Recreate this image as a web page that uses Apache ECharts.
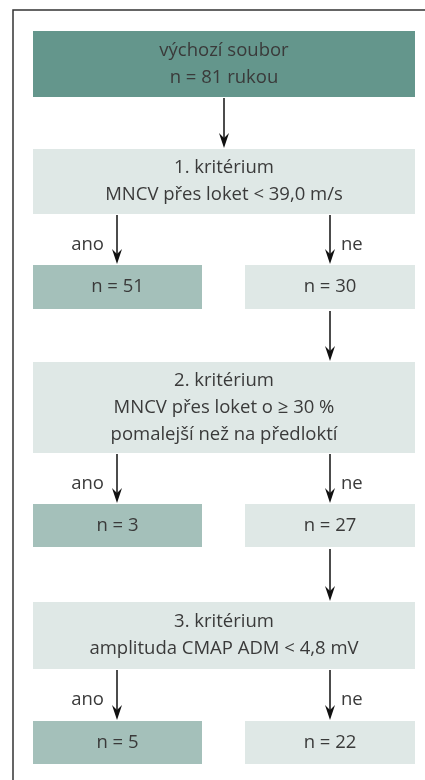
<!DOCTYPE html>
<html>
<head>
<meta charset="utf-8">
<script src="https://cdn.jsdelivr.net/npm/echarts@6/dist/echarts.min.js"></script>
<style>
  html, body { margin: 0; padding: 0; background: #fff; }
  #chart { width: 425px; height: 780px; }
</style>
</head>
<body>
<div id="chart"></div>
<script>
    // data
    var startLines = ['výchozí soubor', 'n = 81 rukou'];
    var criteria = [
        ['1. kritérium', 'MNCV přes loket < 39,0 m/s'],
        ['2. kritérium', 'MNCV přes loket o ≥ 30 %', 'pomalejší než na předloktí'],
        ['3. kritérium', 'amplituda CMAP ADM < 4,8 mV']
    ];
    var yesCounts = [51, 3, 5];
    var noCounts = [30, 27, 22];
    var branchLabels = ['ano', 'ne'];

    // layout (page units, mapped through the hidden axes)
    var colFull = [33, 415], colLeft = [33, 202], colRight = [245, 415];
    var startRow = [31, 97];
    var critRows = [[149, 214], [362, 453], [602, 669]];
    var outRows = [[265, 309], [504, 547], [721, 764]];
    var fillDark = '#64968c', fillMid = '#a4c0ba', fillLight = '#dfe8e6';
    var textStyle = {fontSize: 18.5, fontFamily: 'Open Sans', fontWeight: 'normal', fill: '#3a3a3a'};

    var boxes = [];
    var arrows = [];
    var labels = [];
    var midX = (colFull[0] + colFull[1]) / 2;
    var leftX = 117, rightX = 330;

    boxes.push({x0: colFull[0], x1: colFull[1], y0: startRow[0], y1: startRow[1], fill: fillDark, text: startLines.join('\n')});
    arrows.push([midX, startRow[1] + 1, critRows[0][0]]);
    criteria.forEach(function (lines, i) {
        var cr = critRows[i], orow = outRows[i];
        boxes.push({x0: colFull[0], x1: colFull[1], y0: cr[0], y1: cr[1], fill: fillLight, text: lines.join('\n')});
        boxes.push({x0: colLeft[0], x1: colLeft[1], y0: orow[0], y1: orow[1], fill: fillMid, text: 'n = ' + yesCounts[i]});
        boxes.push({x0: colRight[0], x1: colRight[1], y0: orow[0], y1: orow[1], fill: fillLight, text: 'n = ' + noCounts[i]});
        arrows.push([leftX, cr[1] + 1, orow[0]]);
        arrows.push([rightX, cr[1] + 1, orow[0]]);
        var ly = cr[1] + (orow[0] - cr[1]) * 0.6;
        labels.push({x: leftX - 13, y: ly, text: branchLabels[0], align: 'right'});
        labels.push({x: rightX + 11, y: ly, text: branchLabels[1], align: 'left'});
        if (i < criteria.length - 1) {
            arrows.push([rightX, orow[1] + 2, critRows[i + 1][0]]);
        }
    });

    var chart = echarts.init(document.getElementById('chart'), null, {renderer: 'canvas'});
    chart.setOption({
        animation: false,
        grid: {left: 0, right: 0, top: 0, bottom: 0},
        xAxis: {type: 'value', min: 0, max: 425, show: false},
        yAxis: {type: 'value', min: 0, max: 780, inverse: true, show: false},
        graphic: [
            {type: 'polyline', shape: {points: [[13, 780], [13, 10], [425, 10]]},
             style: {stroke: '#333', lineWidth: 1.5, fill: null}}
        ],
        series: [
            {
                type: 'custom',
                data: boxes.map(function (b) { return [b.x0, b.y0, b.x1, b.y1]; }),
                renderItem: function (params, api) {
                    var b = boxes[params.dataIndex];
                    var p0 = api.coord([api.value(0), api.value(1)]);
                    var p1 = api.coord([api.value(2), api.value(3)]);
                    return {
                        type: 'group',
                        children: [
                            {type: 'rect', shape: {x: p0[0], y: p0[1], width: p1[0] - p0[0], height: p1[1] - p0[1]},
                             style: {fill: b.fill}},
                            {type: 'text', style: echarts.util.extend({
                                text: b.text, x: (p0[0] + p1[0]) / 2, y: (p0[1] + p1[1]) / 2,
                                align: 'center', verticalAlign: 'middle', lineHeight: 27}, textStyle)}
                        ]
                    };
                }
            },
            {
                type: 'custom',
                data: arrows,
                renderItem: function (params, api) {
                    var a = api.coord([api.value(0), api.value(1)]);
                    var b = api.coord([api.value(0), api.value(2)]);
                    var x = a[0], tip = b[1] - 1;
                    return {
                        type: 'group',
                        children: [
                            {type: 'line', shape: {x1: x, y1: a[1], x2: x, y2: tip - 8},
                             style: {stroke: '#111', lineWidth: 1.5}},
                            {type: 'polygon', shape: {points: [[x, tip], [x - 5, tip - 15], [x, tip - 10], [x + 5, tip - 15]]},
                             style: {fill: '#111'}}
                        ]
                    };
                }
            },
            {
                type: 'custom',
                data: labels.map(function (l) { return [l.x, l.y]; }),
                renderItem: function (params, api) {
                    var l = labels[params.dataIndex];
                    var p = api.coord([api.value(0), api.value(1)]);
                    return {type: 'text', style: echarts.util.extend({
                        text: l.text, x: p[0], y: p[1], align: l.align, verticalAlign: 'middle'}, textStyle)};
                }
            }
        ]
    });
</script>
</body>
</html>
